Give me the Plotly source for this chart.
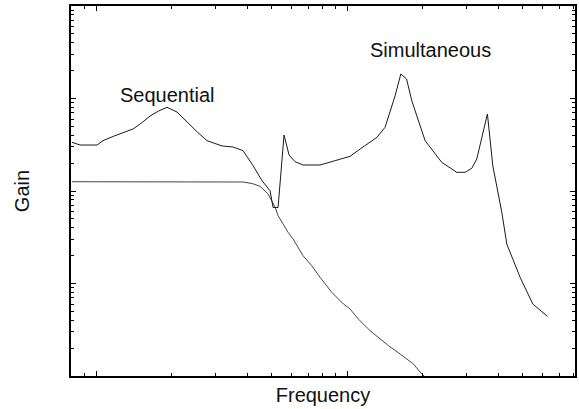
import math
import plotly.graph_objects as go

# Simultaneous curve (frequency, gain)
sim_freq = [0.802, 0.864, 1.009, 1.066, 1.19, 1.404, 1.52, 1.641, 1.78, 1.918,
            2.102, 2.304, 2.53, 2.768, 3.177, 3.514, 3.852, 4.222, 4.585, 4.934,
            5.073, 5.311, 5.61, 5.874, 6.206, 6.678, 7.805, 8.96, 10.28, 11.27,
            13.17, 14.17, 15.54, 16.37, 17.26, 18.1, 20.46, 23.84, 27.35, 29.51,
            31.4, 32.86, 36.23, 38.06, 41.34, 43.28, 48.9, 54.94, 62.8]
sim_gain = [3.36, 3.14, 3.14, 3.50, 3.96, 4.68, 5.45, 6.47, 7.35, 8.03,
            7.14, 5.57, 4.35, 3.50, 3.07, 2.99, 2.73, 1.878, 1.292, 1.007,
            0.663, 0.663, 4.03, 2.45, 2.074, 1.91, 1.91, 2.127, 2.37, 2.845,
            3.81, 4.88, 10.72, 18.4, 16.25, 9.47, 3.50, 2.04, 1.593, 1.593,
            1.76, 2.218, 6.80, 1.878, 0.589, 0.267, 0.1167, 0.06, 0.0442]

# Sequential curve (frequency, gain)
seq_freq = [0.802, 3.852, 4.183, 4.502, 4.846, 5.166, 5.311, 5.82, 6.095, 6.678,
            7.235, 7.805, 8.69, 9.67, 10.28, 11.09, 12.35, 13.54, 14.61, 16.26,
            18.37, 19.85, 23.5]
seq_gain = [1.26, 1.251, 1.205, 1.124, 0.928, 0.671, 0.541, 0.3577, 0.303, 0.1998,
            0.1557, 0.1167, 0.0803, 0.06, 0.053, 0.0413, 0.0309, 0.0251, 0.0213, 0.0173,
            0.0135, 0.0105, 0.00706]

labels = ["Sequential", "Simultaneous"]
label_freq = [1.918, 21.5]
label_gain = [10.9, 33.4]

x_range = [0.795, 80.9]
y_range = [0.01, 100]
x_major = [1, 10]
y_major = [0.01, 0.1, 1, 10, 100]

FONT = "Liberation Sans, Arial"

fig = go.Figure()
fig.add_trace(go.Scatter(x=seq_freq, y=seq_gain, mode="lines",
                         line=dict(color="#444444", width=1), showlegend=False))
fig.add_trace(go.Scatter(x=sim_freq, y=sim_gain, mode="lines",
                         line=dict(color="#1a1a1a", width=1), showlegend=False))

for t, fx, gy in zip(labels, label_freq, label_gain):
    fig.add_annotation(x=math.log10(fx), y=math.log10(gy), text=t, showarrow=False,
                       font=dict(family=FONT, size=20, color="#111111"),
                       xanchor="center", yanchor="middle")

axis_common = dict(
    showline=True, linecolor="black", linewidth=1.5, mirror="ticks",
    ticks="inside", ticklen=5, tickcolor="black", tickwidth=1,
    showticklabels=False, showgrid=False, zeroline=False,
    minor=dict(ticks="inside", ticklen=3, tickcolor="black", dtick="D1", showgrid=False),
    automargin=False,
)

fig.update_xaxes(type="log", range=[math.log10(x_range[0]), math.log10(x_range[1])],
                 tickmode="array", tickvals=x_major,
                 title=dict(text="Frequency", standoff=11,
                            font=dict(family=FONT, size=20, color="#111111")),
                 **axis_common)
fig.update_yaxes(type="log", range=[math.log10(y_range[0]), math.log10(y_range[1])],
                 tickmode="array", tickvals=y_major,
                 title=dict(text="Gain", standoff=34,
                            font=dict(family=FONT, size=20, color="#111111")),
                 **axis_common)

fig.update_layout(width=579, height=409, margin=dict(l=71, r=4, t=6, b=33),
                  paper_bgcolor="white", plot_bgcolor="white",
                  font=dict(family=FONT, color="black"))

fig.write_html("out.html")
